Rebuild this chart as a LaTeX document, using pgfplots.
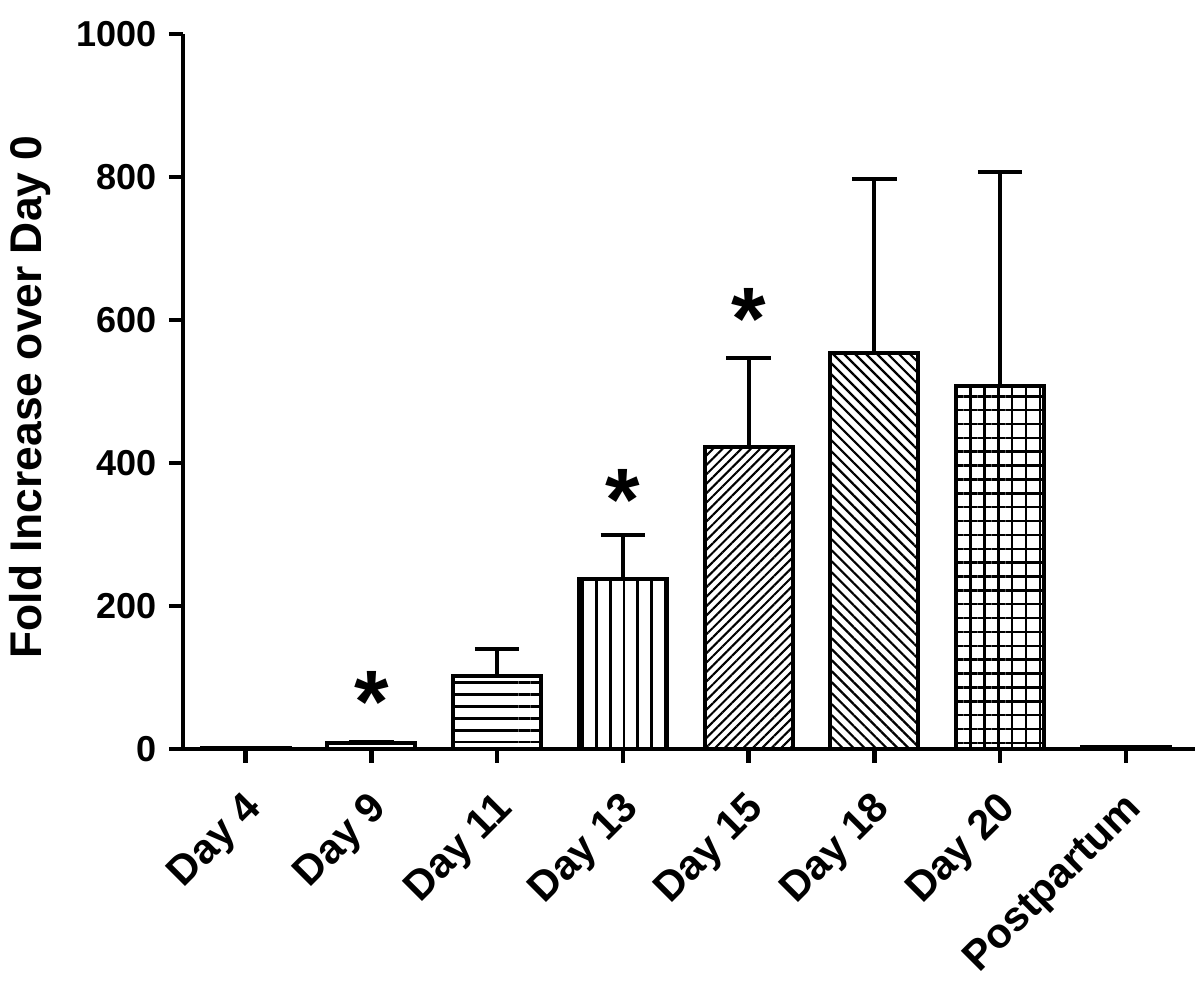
\documentclass[border=0pt]{standalone}
\usepackage{pgfplots}
\pgfplotsset{compat=1.18}
\usepackage{fontspec}
\setmainfont{Liberation Sans}
\usetikzlibrary{patterns.meta}
\begin{document}
\begin{tikzpicture}
\begin{axis}[
  scale only axis,
  width=365pt, height=257.8pt,
  xmin=-0.5, xmax=7.55, ymin=0, ymax=1000,
  axis x line=bottom, axis y line=left,
  axis line style={-, line width=1.6pt},
  every tick/.style={black, line width=1.6pt},
  tick align=outside, major tick length=5pt,
  ytick={0,200,400,600,800,1000},
  xtick={0,1,2,3,4,5,6,7},
  xticklabels={Day 4,Day 9,Day 11,Day 13,Day 15,Day 18,Day 20,Postpartum},
  /pgf/number format/assume math mode=true,
  /pgf/number format/1000 sep={},
  yticklabel style={font=\bfseries\fontsize{13}{15}\selectfont, xshift=-1pt},
  xticklabel style={font=\bfseries\fontsize{15}{17}\selectfont, xshift=6pt, yshift=-12pt, rotate=45, anchor=east},
  ylabel={Fold Increase over Day 0},
  ylabel style={font=\bfseries\fontsize{16}{18}\selectfont, at={(axis description cs:-0.151,0.492)}, anchor=center},
  ybar, bar shift=0pt, bar width=0.7,
  clip=false,
  error bars/y dir=plus, error bars/y explicit,
  error bars/error bar style={line width=1.5pt, black},
  error bars/error mark options={line width=1.5pt, mark size=8pt, black, rotate=90},
]
\addplot[draw=black, line width=1.5pt, fill=white] coordinates {(0,1) +- (0,0.5)};
\addplot[draw=black, line width=1.5pt, fill=white] coordinates {(1,8) +- (0,2)};
\addplot[draw=black, line width=1.5pt, pattern={Lines[angle=0, distance=4.3pt, line width=1pt]}] coordinates {(2,102) +- (0,37)};
\addplot[draw=black, line width=1.5pt, pattern={Lines[angle=90, distance=5pt, line width=1pt]}] coordinates {(3,237) +- (0,62)};
\addplot[draw=black, line width=1.5pt, pattern={Lines[angle=45, distance=2.4pt, line width=0.75pt]}] coordinates {(4,422) +- (0,125)};
\addplot[draw=black, line width=1.5pt, pattern={Lines[angle=-45, distance=2.8pt, line width=0.8pt]}] coordinates {(5,554) +- (0,243)};
\addplot[draw=black, line width=1.5pt, pattern={Hatch[angle=0, distance=5pt, line width=0.9pt]}] coordinates {(6,507) +- (0,300)};
\addplot[draw=black, line width=1.5pt, fill=white] coordinates {(7,2) +- (0,0.5)};
\node[font=\bfseries\fontsize{32}{32}\selectfont] at (axis cs:1,66) {*};
\node[font=\bfseries\fontsize{32}{32}\selectfont] at (axis cs:3,348) {*};
\node[font=\bfseries\fontsize{32}{32}\selectfont] at (axis cs:4,601) {*};
\path (rel axis cs:0,0) ++(-65.2pt,-83.5pt) coordinate (bbl);
\path (rel axis cs:1,1) ++(1.8pt,12.2pt) coordinate (btr);
\end{axis}
\path (bbl) rectangle (btr);
\end{tikzpicture}
\end{document}
